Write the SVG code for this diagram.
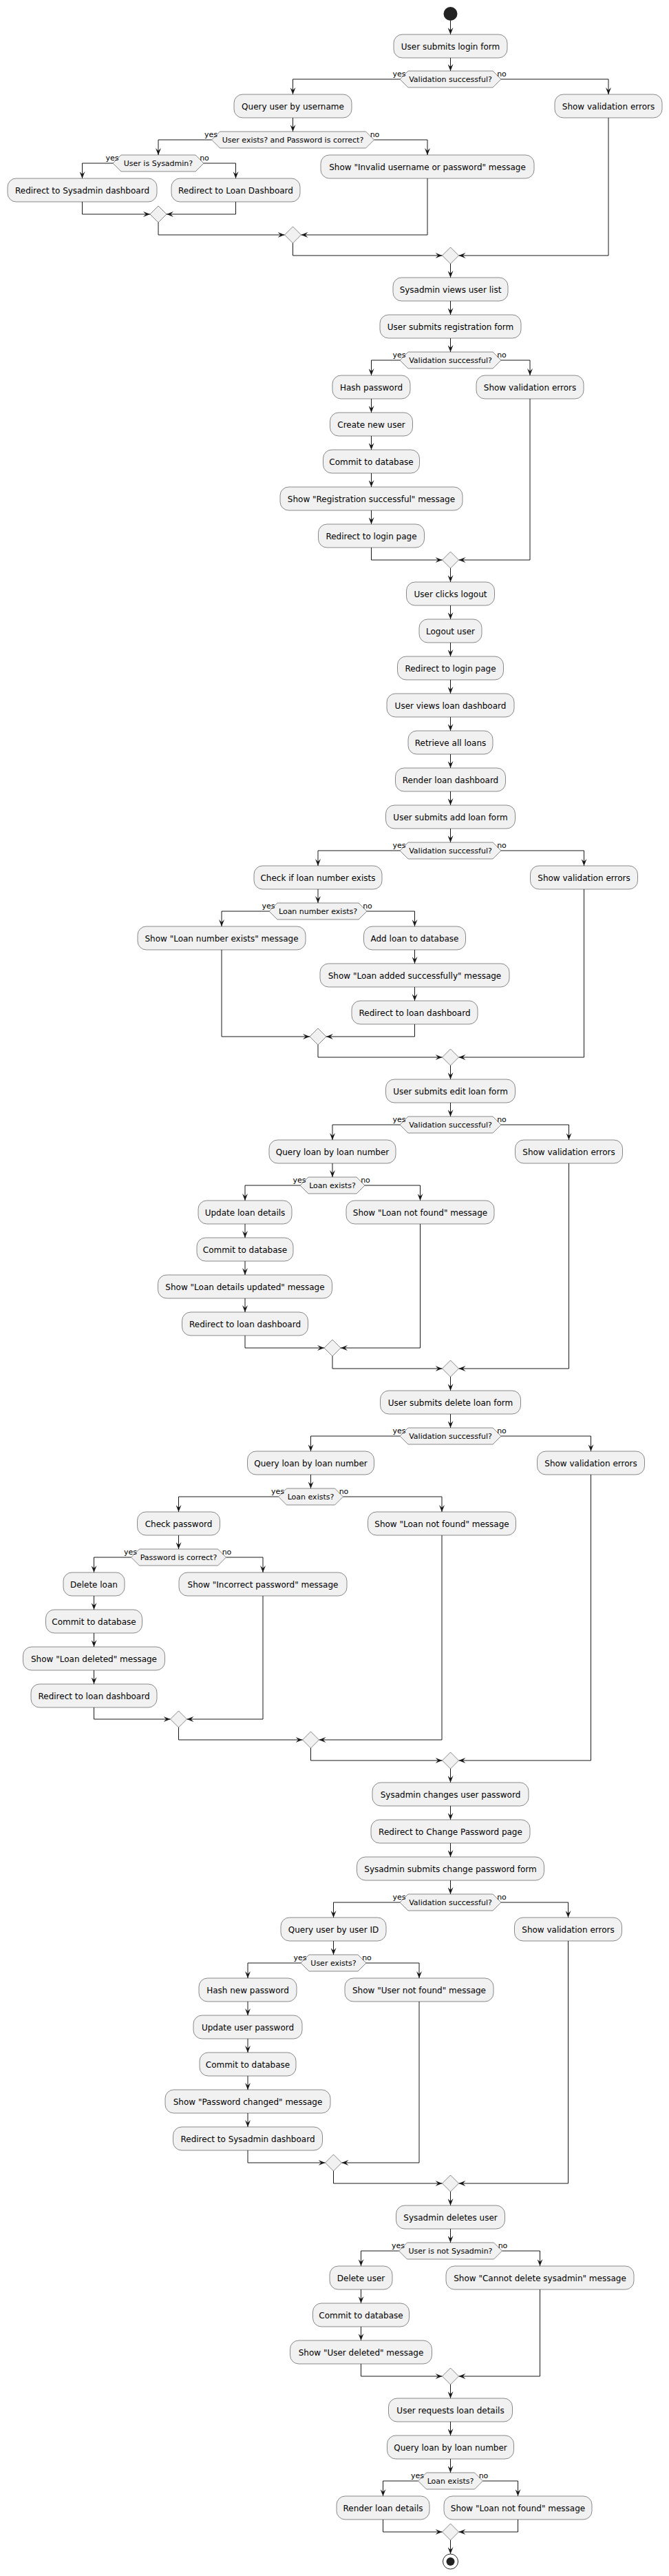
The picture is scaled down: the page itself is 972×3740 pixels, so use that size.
<svg xmlns="http://www.w3.org/2000/svg" width="972" height="3740" viewBox="0 0 972 3740">
<style>
.b rect{fill:#F1F1F1;stroke:#181818;stroke-width:0.5}
.b text{font-family:"DejaVu Sans","Liberation Sans",sans-serif;font-size:12px;text-anchor:middle;fill:#000}
.d polygon{fill:#F1F1F1;stroke:#181818;stroke-width:0.5}
.d text{font-family:"DejaVu Sans","Liberation Sans",sans-serif;font-size:11px;text-anchor:middle;fill:#000}
.m polygon{fill:#F1F1F1;stroke:#181818;stroke-width:0.5}
.y{font-family:"DejaVu Sans","Liberation Sans",sans-serif;font-size:11px;text-anchor:end;fill:#000}
.n{font-family:"DejaVu Sans","Liberation Sans",sans-serif;font-size:11px;text-anchor:start;fill:#000}
#edges polyline{fill:none;stroke:#181818;stroke-width:1;marker-end:url(#a)}
</style>
<defs>
<marker id="a" viewBox="0 0 10 8" refX="10" refY="4" markerWidth="10" markerHeight="8" markerUnits="userSpaceOnUse" orient="auto"><path d="M0,0 L10,4 L0,8 L4,4 Z" fill="#181818"/></marker>
</defs>
<rect width="972" height="3740" fill="#FFFFFF"/>
<g id="edges">
<polyline points="654.5,30 654.5,50"/>
<polyline points="654.5,84 654.5,103"/>
<polyline points="581,115 425.5,115 425.5,137"/>
<polyline points="728,115 884,115 884,137"/>
<polyline points="425.5,171 425.5,191"/>
<polyline points="307.5,203 230,203 230,225"/>
<polyline points="543.5,203 621,203 621,225"/>
<polyline points="164,237 119.5,237 119.5,259"/>
<polyline points="296,237 342.5,237 342.5,259"/>
<polyline points="119.5,293 119.5,311 218,311"/>
<polyline points="342.5,293 342.5,311 242,311"/>
<polyline points="230,323 230,341 413.5,341"/>
<polyline points="621,259 621,341 437.5,341"/>
<polyline points="425.5,353 425.5,371 642.5,371"/>
<polyline points="884,171 884,371 666.5,371"/>
<polyline points="654.5,383 654.5,403"/>
<polyline points="654.5,437 654.5,457"/>
<polyline points="654.5,491 654.5,511"/>
<polyline points="581,523 539.5,523 539.5,545"/>
<polyline points="728,523 770,523 770,545"/>
<polyline points="539.5,579 539.5,599"/>
<polyline points="539.5,633 539.5,653"/>
<polyline points="539.5,687 539.5,707"/>
<polyline points="539.5,741 539.5,761"/>
<polyline points="539.5,795 539.5,813 642.5,813"/>
<polyline points="770,579 770,813 666.5,813"/>
<polyline points="654.5,825 654.5,845"/>
<polyline points="654.5,879 654.5,899"/>
<polyline points="654.5,933 654.5,953"/>
<polyline points="654.5,987 654.5,1007"/>
<polyline points="654.5,1041 654.5,1061"/>
<polyline points="654.5,1095 654.5,1115"/>
<polyline points="654.5,1149 654.5,1169"/>
<polyline points="654.5,1203 654.5,1223"/>
<polyline points="581,1235 462,1235 462,1257"/>
<polyline points="728,1235 848.5,1235 848.5,1257"/>
<polyline points="462,1291 462,1311"/>
<polyline points="391,1323 322,1323 322,1345"/>
<polyline points="533,1323 602.5,1323 602.5,1345"/>
<polyline points="602.5,1379 602.5,1399"/>
<polyline points="602.5,1433 602.5,1453"/>
<polyline points="322,1379 322,1505 450,1505"/>
<polyline points="602.5,1487 602.5,1505 474,1505"/>
<polyline points="462,1517 462,1535 642.5,1535"/>
<polyline points="848.5,1291 848.5,1535 666.5,1535"/>
<polyline points="654.5,1547 654.5,1567"/>
<polyline points="654.5,1601 654.5,1621"/>
<polyline points="581,1633 483,1633 483,1655"/>
<polyline points="728,1633 826.5,1633 826.5,1655"/>
<polyline points="483,1689 483,1709"/>
<polyline points="436,1721 356,1721 356,1743"/>
<polyline points="530,1721 610.5,1721 610.5,1743"/>
<polyline points="356,1777 356,1797"/>
<polyline points="356,1831 356,1851"/>
<polyline points="356,1885 356,1905"/>
<polyline points="356,1939 356,1957 471,1957"/>
<polyline points="610.5,1777 610.5,1957 495,1957"/>
<polyline points="483,1969 483,1987 642.5,1987"/>
<polyline points="826.5,1689 826.5,1987 666.5,1987"/>
<polyline points="654.5,1999 654.5,2019"/>
<polyline points="654.5,2053 654.5,2073"/>
<polyline points="581,2085 451.5,2085 451.5,2107"/>
<polyline points="728,2085 858.5,2085 858.5,2107"/>
<polyline points="451.5,2141 451.5,2161"/>
<polyline points="404.5,2173 259.5,2173 259.5,2195"/>
<polyline points="498.5,2173 642,2173 642,2195"/>
<polyline points="259.5,2229 259.5,2249"/>
<polyline points="190.5,2261 136.5,2261 136.5,2283"/>
<polyline points="328.5,2261 382,2261 382,2283"/>
<polyline points="136.5,2317 136.5,2337"/>
<polyline points="136.5,2371 136.5,2391"/>
<polyline points="136.5,2425 136.5,2445"/>
<polyline points="136.5,2479 136.5,2496 247.5,2496"/>
<polyline points="382,2317 382,2496 271.5,2496"/>
<polyline points="259.5,2508 259.5,2526 439.5,2526"/>
<polyline points="642,2229 642,2526 463.5,2526"/>
<polyline points="451.5,2538 451.5,2556 642.5,2556"/>
<polyline points="858.5,2141 858.5,2556 666.5,2556"/>
<polyline points="654.5,2568 654.5,2588"/>
<polyline points="654.5,2622 654.5,2642"/>
<polyline points="654.5,2676 654.5,2696"/>
<polyline points="654.5,2730 654.5,2750"/>
<polyline points="581,2762 484.5,2762 484.5,2784"/>
<polyline points="728,2762 825.5,2762 825.5,2784"/>
<polyline points="484.5,2818 484.5,2838"/>
<polyline points="437,2850 360,2850 360,2872"/>
<polyline points="532,2850 609,2850 609,2872"/>
<polyline points="360,2906 360,2926"/>
<polyline points="360,2960 360,2980"/>
<polyline points="360,3014 360,3034"/>
<polyline points="360,3068 360,3088"/>
<polyline points="360,3122 360,3140 472.5,3140"/>
<polyline points="609,2906 609,3140 496.5,3140"/>
<polyline points="484.5,3152 484.5,3170 642.5,3170"/>
<polyline points="825.5,2818 825.5,3170 666.5,3170"/>
<polyline points="654.5,3182 654.5,3202"/>
<polyline points="654.5,3236 654.5,3256"/>
<polyline points="579.5,3268 524.5,3268 524.5,3290"/>
<polyline points="729.5,3268 784.5,3268 784.5,3290"/>
<polyline points="524.5,3324 524.5,3344"/>
<polyline points="524.5,3378 524.5,3398"/>
<polyline points="524.5,3432 524.5,3450 642.5,3450"/>
<polyline points="784.5,3324 784.5,3450 666.5,3450"/>
<polyline points="654.5,3462 654.5,3482"/>
<polyline points="654.5,3516 654.5,3536"/>
<polyline points="654.5,3570 654.5,3590"/>
<polyline points="607.5,3602 556.5,3602 556.5,3624"/>
<polyline points="701.5,3602 752.5,3602 752.5,3624"/>
<polyline points="556.5,3658 556.5,3676 642.5,3676"/>
<polyline points="752.5,3658 752.5,3676 666.5,3676"/>
<polyline points="654.5,3688 654.5,3708"/>
</g>
<g id="start"><circle cx="654.5" cy="20" r="10" fill="#222222"/></g>
<g id="n1" class="b"><rect x="572" y="50" width="165" height="34" rx="12.5"/><text x="654.5" y="71.5">User submits login form</text></g>
<g id="d1" class="d"><polygon points="581,115 593,103 716,103 728,115 716,127 593,127"/><text x="654.5" y="119">Validation successful?</text><text class="y" x="580" y="111">yes</text><text class="n" x="729" y="111">no</text></g>
<g id="n2" class="b"><rect x="340" y="137" width="171" height="34" rx="12.5"/><text x="425.5" y="158.5">Query user by username</text></g>
<g id="n3" class="b"><rect x="806" y="137" width="156" height="34" rx="12.5"/><text x="884" y="158.5">Show validation errors</text></g>
<g id="d2" class="d"><polygon points="307.5,203 319.5,191 531.5,191 543.5,203 531.5,215 319.5,215"/><text x="425.5" y="207">User exists? and Password is correct?</text><text class="y" x="306.5" y="199">yes</text><text class="n" x="544.5" y="199">no</text></g>
<g id="d3" class="d"><polygon points="164,237 176,225 284,225 296,237 284,249 176,249"/><text x="230" y="241">User is Sysadmin?</text><text class="y" x="163" y="233">yes</text><text class="n" x="297" y="233">no</text></g>
<g id="n4" class="b"><rect x="466" y="225" width="310" height="34" rx="12.5"/><text x="621" y="246.5">Show "Invalid username or password" message</text></g>
<g id="n5" class="b"><rect x="11" y="259" width="217" height="34" rx="12.5"/><text x="119.5" y="280.5">Redirect to Sysadmin dashboard</text></g>
<g id="n6" class="b"><rect x="249" y="259" width="187" height="34" rx="12.5"/><text x="342.5" y="280.5">Redirect to Loan Dashboard</text></g>
<g id="m1" class="m"><polygon points="230,299 242,311 230,323 218,311"/></g>
<g id="m2" class="m"><polygon points="425.5,329 437.5,341 425.5,353 413.5,341"/></g>
<g id="m3" class="m"><polygon points="654.5,359 666.5,371 654.5,383 642.5,371"/></g>
<g id="n7" class="b"><rect x="571" y="403" width="167" height="34" rx="12.5"/><text x="654.5" y="424.5">Sysadmin views user list</text></g>
<g id="n8" class="b"><rect x="552" y="457" width="205" height="34" rx="12.5"/><text x="654.5" y="478.5">User submits registration form</text></g>
<g id="d4" class="d"><polygon points="581,523 593,511 716,511 728,523 716,535 593,535"/><text x="654.5" y="527">Validation successful?</text><text class="y" x="580" y="519">yes</text><text class="n" x="729" y="519">no</text></g>
<g id="n9" class="b"><rect x="483" y="545" width="113" height="34" rx="12.5"/><text x="539.5" y="566.5">Hash password</text></g>
<g id="n10" class="b"><rect x="692" y="545" width="156" height="34" rx="12.5"/><text x="770" y="566.5">Show validation errors</text></g>
<g id="n11" class="b"><rect x="479.5" y="599" width="120" height="34" rx="12.5"/><text x="539.5" y="620.5">Create new user</text></g>
<g id="n12" class="b"><rect x="469.5" y="653" width="140" height="34" rx="12.5"/><text x="539.5" y="674.5">Commit to database</text></g>
<g id="n13" class="b"><rect x="407" y="707" width="265" height="34" rx="12.5"/><text x="539.5" y="728.5">Show "Registration successful" message</text></g>
<g id="n14" class="b"><rect x="462.5" y="761" width="154" height="34" rx="12.5"/><text x="539.5" y="782.5">Redirect to login page</text></g>
<g id="m4" class="m"><polygon points="654.5,801 666.5,813 654.5,825 642.5,813"/></g>
<g id="n15" class="b"><rect x="590.5" y="845" width="128" height="34" rx="12.5"/><text x="654.5" y="866.5">User clicks logout</text></g>
<g id="n16" class="b"><rect x="609" y="899" width="91" height="34" rx="12.5"/><text x="654.5" y="920.5">Logout user</text></g>
<g id="n17" class="b"><rect x="577.5" y="953" width="154" height="34" rx="12.5"/><text x="654.5" y="974.5">Redirect to login page</text></g>
<g id="n18" class="b"><rect x="562" y="1007" width="185" height="34" rx="12.5"/><text x="654.5" y="1028.5">User views loan dashboard</text></g>
<g id="n19" class="b"><rect x="593" y="1061" width="123" height="34" rx="12.5"/><text x="654.5" y="1082.5">Retrieve all loans</text></g>
<g id="n20" class="b"><rect x="574.5" y="1115" width="160" height="34" rx="12.5"/><text x="654.5" y="1136.5">Render loan dashboard</text></g>
<g id="n21" class="b"><rect x="560.5" y="1169" width="188" height="34" rx="12.5"/><text x="654.5" y="1190.5">User submits add loan form</text></g>
<g id="d5" class="d"><polygon points="581,1235 593,1223 716,1223 728,1235 716,1247 593,1247"/><text x="654.5" y="1239">Validation successful?</text><text class="y" x="580" y="1231">yes</text><text class="n" x="729" y="1231">no</text></g>
<g id="n22" class="b"><rect x="369" y="1257" width="186" height="34" rx="12.5"/><text x="462" y="1278.5">Check if loan number exists</text></g>
<g id="n23" class="b"><rect x="770.5" y="1257" width="156" height="34" rx="12.5"/><text x="848.5" y="1278.5">Show validation errors</text></g>
<g id="d6" class="d"><polygon points="391,1323 403,1311 521,1311 533,1323 521,1335 403,1335"/><text x="462" y="1327">Loan number exists?</text><text class="y" x="390" y="1319">yes</text><text class="n" x="534" y="1319">no</text></g>
<g id="n24" class="b"><rect x="200" y="1345" width="244" height="34" rx="12.5"/><text x="322" y="1366.5">Show "Loan number exists" message</text></g>
<g id="n25" class="b"><rect x="528.5" y="1345" width="148" height="34" rx="12.5"/><text x="602.5" y="1366.5">Add loan to database</text></g>
<g id="n26" class="b"><rect x="465" y="1399" width="275" height="34" rx="12.5"/><text x="602.5" y="1420.5">Show "Loan added successfully" message</text></g>
<g id="n27" class="b"><rect x="511" y="1453" width="183" height="34" rx="12.5"/><text x="602.5" y="1474.5">Redirect to loan dashboard</text></g>
<g id="m5" class="m"><polygon points="462,1493 474,1505 462,1517 450,1505"/></g>
<g id="m6" class="m"><polygon points="654.5,1523 666.5,1535 654.5,1547 642.5,1535"/></g>
<g id="n28" class="b"><rect x="560.5" y="1567" width="188" height="34" rx="12.5"/><text x="654.5" y="1588.5">User submits edit loan form</text></g>
<g id="d7" class="d"><polygon points="581,1633 593,1621 716,1621 728,1633 716,1645 593,1645"/><text x="654.5" y="1637">Validation successful?</text><text class="y" x="580" y="1629">yes</text><text class="n" x="729" y="1629">no</text></g>
<g id="n29" class="b"><rect x="391" y="1655" width="184" height="34" rx="12.5"/><text x="483" y="1676.5">Query loan by loan number</text></g>
<g id="n30" class="b"><rect x="748.5" y="1655" width="156" height="34" rx="12.5"/><text x="826.5" y="1676.5">Show validation errors</text></g>
<g id="d8" class="d"><polygon points="436,1721 448,1709 518,1709 530,1721 518,1733 448,1733"/><text x="483" y="1725">Loan exists?</text><text class="y" x="435" y="1717">yes</text><text class="n" x="531" y="1717">no</text></g>
<g id="n31" class="b"><rect x="288" y="1743" width="136" height="34" rx="12.5"/><text x="356" y="1764.5">Update loan details</text></g>
<g id="n32" class="b"><rect x="503" y="1743" width="215" height="34" rx="12.5"/><text x="610.5" y="1764.5">Show "Loan not found" message</text></g>
<g id="n33" class="b"><rect x="286" y="1797" width="140" height="34" rx="12.5"/><text x="356" y="1818.5">Commit to database</text></g>
<g id="n34" class="b"><rect x="229.5" y="1851" width="253" height="34" rx="12.5"/><text x="356" y="1872.5">Show "Loan details updated" message</text></g>
<g id="n35" class="b"><rect x="264.5" y="1905" width="183" height="34" rx="12.5"/><text x="356" y="1926.5">Redirect to loan dashboard</text></g>
<g id="m7" class="m"><polygon points="483,1945 495,1957 483,1969 471,1957"/></g>
<g id="m8" class="m"><polygon points="654.5,1975 666.5,1987 654.5,1999 642.5,1987"/></g>
<g id="n36" class="b"><rect x="552.5" y="2019" width="204" height="34" rx="12.5"/><text x="654.5" y="2040.5">User submits delete loan form</text></g>
<g id="d9" class="d"><polygon points="581,2085 593,2073 716,2073 728,2085 716,2097 593,2097"/><text x="654.5" y="2089">Validation successful?</text><text class="y" x="580" y="2081">yes</text><text class="n" x="729" y="2081">no</text></g>
<g id="n37" class="b"><rect x="359.5" y="2107" width="184" height="34" rx="12.5"/><text x="451.5" y="2128.5">Query loan by loan number</text></g>
<g id="n38" class="b"><rect x="780.5" y="2107" width="156" height="34" rx="12.5"/><text x="858.5" y="2128.5">Show validation errors</text></g>
<g id="d10" class="d"><polygon points="404.5,2173 416.5,2161 486.5,2161 498.5,2173 486.5,2185 416.5,2185"/><text x="451.5" y="2177">Loan exists?</text><text class="y" x="403.5" y="2169">yes</text><text class="n" x="499.5" y="2169">no</text></g>
<g id="n39" class="b"><rect x="199.5" y="2195" width="120" height="34" rx="12.5"/><text x="259.5" y="2216.5">Check password</text></g>
<g id="n40" class="b"><rect x="534.5" y="2195" width="215" height="34" rx="12.5"/><text x="642" y="2216.5">Show "Loan not found" message</text></g>
<g id="d11" class="d"><polygon points="190.5,2261 202.5,2249 316.5,2249 328.5,2261 316.5,2273 202.5,2273"/><text x="259.5" y="2265">Password is correct?</text><text class="y" x="189.5" y="2257">yes</text><text class="n" x="329.5" y="2257">no</text></g>
<g id="n41" class="b"><rect x="92" y="2283" width="89" height="34" rx="12.5"/><text x="136.5" y="2304.5">Delete loan</text></g>
<g id="n42" class="b"><rect x="260" y="2283" width="244" height="34" rx="12.5"/><text x="382" y="2304.5">Show "Incorrect password" message</text></g>
<g id="n43" class="b"><rect x="66.5" y="2337" width="140" height="34" rx="12.5"/><text x="136.5" y="2358.5">Commit to database</text></g>
<g id="n44" class="b"><rect x="33.5" y="2391" width="206" height="34" rx="12.5"/><text x="136.5" y="2412.5">Show "Loan deleted" message</text></g>
<g id="n45" class="b"><rect x="45" y="2445" width="183" height="34" rx="12.5"/><text x="136.5" y="2466.5">Redirect to loan dashboard</text></g>
<g id="m9" class="m"><polygon points="259.5,2484 271.5,2496 259.5,2508 247.5,2496"/></g>
<g id="m10" class="m"><polygon points="451.5,2514 463.5,2526 451.5,2538 439.5,2526"/></g>
<g id="m11" class="m"><polygon points="654.5,2544 666.5,2556 654.5,2568 642.5,2556"/></g>
<g id="n46" class="b"><rect x="541" y="2588" width="227" height="34" rx="12.5"/><text x="654.5" y="2609.5">Sysadmin changes user password</text></g>
<g id="n47" class="b"><rect x="539" y="2642" width="231" height="34" rx="12.5"/><text x="654.5" y="2663.5">Redirect to Change Password page</text></g>
<g id="n48" class="b"><rect x="518.5" y="2696" width="272" height="34" rx="12.5"/><text x="654.5" y="2717.5">Sysadmin submits change password form</text></g>
<g id="d12" class="d"><polygon points="581,2762 593,2750 716,2750 728,2762 716,2774 593,2774"/><text x="654.5" y="2766">Validation successful?</text><text class="y" x="580" y="2758">yes</text><text class="n" x="729" y="2758">no</text></g>
<g id="n49" class="b"><rect x="408" y="2784" width="153" height="34" rx="12.5"/><text x="484.5" y="2805.5">Query user by user ID</text></g>
<g id="n50" class="b"><rect x="747.5" y="2784" width="156" height="34" rx="12.5"/><text x="825.5" y="2805.5">Show validation errors</text></g>
<g id="d13" class="d"><polygon points="437,2850 449,2838 520,2838 532,2850 520,2862 449,2862"/><text x="484.5" y="2854">User exists?</text><text class="y" x="436" y="2846">yes</text><text class="n" x="533" y="2846">no</text></g>
<g id="n51" class="b"><rect x="289" y="2872" width="142" height="34" rx="12.5"/><text x="360" y="2893.5">Hash new password</text></g>
<g id="n52" class="b"><rect x="501" y="2872" width="216" height="34" rx="12.5"/><text x="609" y="2893.5">Show "User not found" message</text></g>
<g id="n53" class="b"><rect x="281" y="2926" width="158" height="34" rx="12.5"/><text x="360" y="2947.5">Update user password</text></g>
<g id="n54" class="b"><rect x="290" y="2980" width="140" height="34" rx="12.5"/><text x="360" y="3001.5">Commit to database</text></g>
<g id="n55" class="b"><rect x="240" y="3034" width="240" height="34" rx="12.5"/><text x="360" y="3055.5">Show "Password changed" message</text></g>
<g id="n56" class="b"><rect x="251.5" y="3088" width="217" height="34" rx="12.5"/><text x="360" y="3109.5">Redirect to Sysadmin dashboard</text></g>
<g id="m12" class="m"><polygon points="484.5,3128 496.5,3140 484.5,3152 472.5,3140"/></g>
<g id="m13" class="m"><polygon points="654.5,3158 666.5,3170 654.5,3182 642.5,3170"/></g>
<g id="n57" class="b"><rect x="575.5" y="3202" width="158" height="34" rx="12.5"/><text x="654.5" y="3223.5">Sysadmin deletes user</text></g>
<g id="d14" class="d"><polygon points="579.5,3268 591.5,3256 717.5,3256 729.5,3268 717.5,3280 591.5,3280"/><text x="654.5" y="3272">User is not Sysadmin?</text><text class="y" x="578.5" y="3264">yes</text><text class="n" x="730.5" y="3264">no</text></g>
<g id="n58" class="b"><rect x="479" y="3290" width="91" height="34" rx="12.5"/><text x="524.5" y="3311.5">Delete user</text></g>
<g id="n59" class="b"><rect x="648" y="3290" width="273" height="34" rx="12.5"/><text x="784.5" y="3311.5">Show "Cannot delete sysadmin" message</text></g>
<g id="n60" class="b"><rect x="454.5" y="3344" width="140" height="34" rx="12.5"/><text x="524.5" y="3365.5">Commit to database</text></g>
<g id="n61" class="b"><rect x="421.5" y="3398" width="206" height="34" rx="12.5"/><text x="524.5" y="3419.5">Show "User deleted" message</text></g>
<g id="m14" class="m"><polygon points="654.5,3438 666.5,3450 654.5,3462 642.5,3450"/></g>
<g id="n62" class="b"><rect x="564.5" y="3482" width="180" height="34" rx="12.5"/><text x="654.5" y="3503.5">User requests loan details</text></g>
<g id="n63" class="b"><rect x="562.5" y="3536" width="184" height="34" rx="12.5"/><text x="654.5" y="3557.5">Query loan by loan number</text></g>
<g id="d15" class="d"><polygon points="607.5,3602 619.5,3590 689.5,3590 701.5,3602 689.5,3614 619.5,3614"/><text x="654.5" y="3606">Loan exists?</text><text class="y" x="606.5" y="3598">yes</text><text class="n" x="702.5" y="3598">no</text></g>
<g id="n64" class="b"><rect x="489" y="3624" width="135" height="34" rx="12.5"/><text x="556.5" y="3645.5">Render loan details</text></g>
<g id="n65" class="b"><rect x="645" y="3624" width="215" height="34" rx="12.5"/><text x="752.5" y="3645.5">Show "Loan not found" message</text></g>
<g id="m15" class="m"><polygon points="654.5,3664 666.5,3676 654.5,3688 642.5,3676"/></g>
<g id="end"><circle cx="654.5" cy="3719" r="11" fill="none" stroke="#222222" stroke-width="1"/><circle cx="654.5" cy="3719" r="6" fill="#222222"/></g>
</svg>
